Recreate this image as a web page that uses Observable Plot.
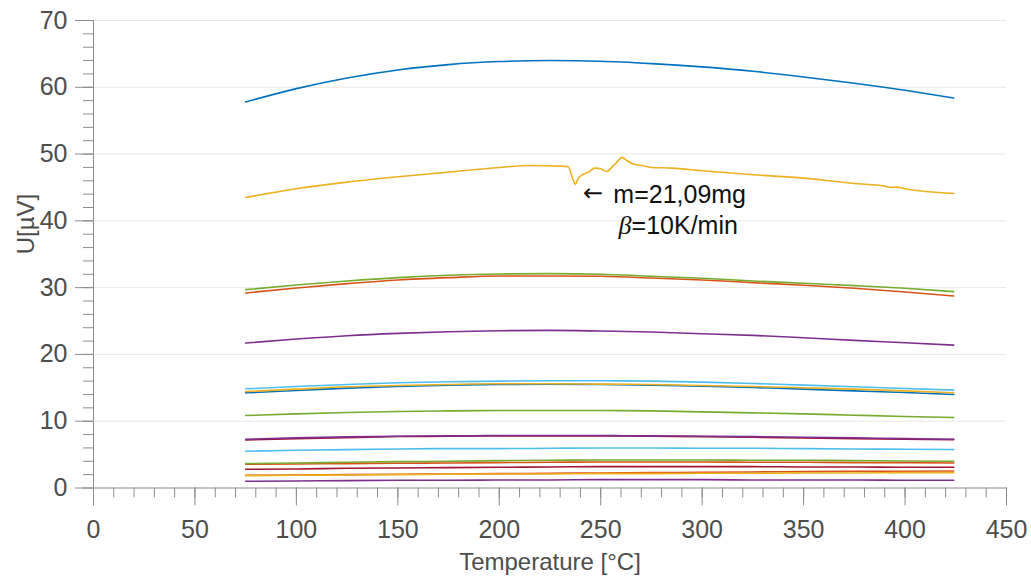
<!DOCTYPE html>
<html>
<head>
<meta charset="utf-8">
<script src="https://cdn.jsdelivr.net/npm/d3@7"></script>
<script src="https://cdn.jsdelivr.net/npm/@observablehq/plot@0.6"></script>
<style>
  body { margin: 0; background: #fff; }
  #chart svg { display: block; }
</style>
</head>
<body>
<div id="chart"></div>
<script>
// Temperature sample points shared by the smooth signal curves (°C)
const temperature = [75, 100, 125, 150, 175, 200, 225, 250, 275, 300, 325, 350, 375, 400, 424];

// Signal U [µV] of each measurement, read at the temperatures above
const blueTop    = [57.8, 59.8, 61.4, 62.6, 63.4, 63.85, 64.0, 63.9, 63.55, 63.05, 62.4, 61.55, 60.6, 59.55, 58.4];
const green30    = [29.7, 30.4, 31.0, 31.5, 31.85, 32.05, 32.1, 32.0, 31.7, 31.4, 31.0, 30.65, 30.3, 29.9, 29.4];
const orange29   = [29.2, 29.95, 30.6, 31.15, 31.5, 31.75, 31.75, 31.7, 31.45, 31.15, 30.75, 30.35, 29.9, 29.35, 28.75];
const purple22   = [21.7, 22.3, 22.8, 23.15, 23.4, 23.55, 23.6, 23.5, 23.35, 23.1, 22.85, 22.5, 22.1, 21.75, 21.4];
const cyan15     = [14.85, 15.2, 15.5, 15.75, 15.9, 16.0, 16.05, 16.05, 16.0, 15.85, 15.65, 15.4, 15.15, 14.9, 14.65];
const yellow15   = [14.45, 14.8, 15.15, 15.35, 15.5, 15.6, 15.6, 15.55, 15.5, 15.35, 15.2, 15.0, 14.8, 14.55, 14.25];
const blue14     = [14.25, 14.6, 14.95, 15.2, 15.4, 15.5, 15.55, 15.5, 15.4, 15.25, 15.05, 14.8, 14.55, 14.3, 14.0];
const green11    = [10.85, 11.1, 11.3, 11.45, 11.55, 11.6, 11.6, 11.6, 11.55, 11.4, 11.25, 11.1, 10.9, 10.7, 10.55];
const darkred7   = [7.2, 7.4, 7.55, 7.7, 7.75, 7.8, 7.8, 7.8, 7.75, 7.7, 7.6, 7.5, 7.4, 7.3, 7.25];
const purple7    = [7.3, 7.5, 7.65, 7.75, 7.8, 7.85, 7.85, 7.85, 7.8, 7.75, 7.7, 7.6, 7.5, 7.4, 7.3];
const cyan6      = [5.5, 5.65, 5.75, 5.85, 5.9, 5.9, 5.95, 6.0, 6.0, 5.95, 5.95, 5.9, 5.85, 5.8, 5.75];
const orange4    = [3.55, 3.6, 3.65, 3.7, 3.75, 3.8, 3.85, 3.9, 3.9, 3.9, 3.85, 3.85, 3.8, 3.8, 3.75];
const green4     = [3.65, 3.75, 3.85, 3.95, 4.0, 4.1, 4.15, 4.2, 4.2, 4.2, 4.15, 4.15, 4.1, 4.05, 4.0];
const darkred3   = [2.8, 2.85, 2.95, 3.0, 3.05, 3.1, 3.15, 3.2, 3.2, 3.2, 3.2, 3.15, 3.15, 3.1, 3.1];
const yellow2    = [1.85, 1.9, 1.95, 2.0, 2.05, 2.1, 2.1, 2.15, 2.15, 2.2, 2.2, 2.25, 2.25, 2.3, 2.3];
const orange2    = [1.9, 1.95, 2.0, 2.05, 2.1, 2.15, 2.2, 2.25, 2.3, 2.35, 2.4, 2.45, 2.5, 2.5, 2.55];
const purple1    = [1.0, 1.05, 1.1, 1.15, 1.15, 1.2, 1.2, 1.25, 1.25, 1.25, 1.2, 1.2, 1.2, 1.15, 1.15];

// The 21,09 mg run has its own, denser sampling around the disturbance near 235–265 °C
const temperatureM21 = [75, 100, 125, 150, 175, 200, 215, 230, 234, 236, 237.5, 239, 241, 244, 247, 250, 253, 256, 258, 260.5, 263, 266, 270, 275, 285, 300, 325, 350, 375, 390, 393, 396, 400, 424];
const signalM21      = [43.5, 44.8, 45.8, 46.6, 47.3, 48.0, 48.3, 48.2, 48.1, 46.5, 45.5, 46.4, 46.9, 47.3, 47.9, 47.8, 47.4, 48.2, 48.8, 49.5, 49.0, 48.5, 48.3, 48.0, 47.9, 47.5, 46.9, 46.4, 45.6, 45.2, 45.0, 45.05, 44.8, 44.1];

// Axis ticks and texts
const yMajorTicks = [0, 10, 20, 30, 40, 50, 60, 70];
const yMinorTicks = d3.range(0, 71, 2);
const xMajorTicks = [0, 50, 100, 150, 200, 250, 300, 350, 400, 450];
const xMinorTicks = d3.range(0, 451, 10);
const xTitle = "Temperature [°C]";
const yTitle = "U[µV]";
const noteArrow = "←";
const noteMass = "m=21,09mg";
const noteRateSymbol = "β";
const noteRate = "=10K/min";

// Line colours (MATLAB default palette)
const C = {
  blue: "#0072BD", orange: "#D95319", yellow: "#EDB120", purple: "#7E2F8E",
  green: "#77AC30", cyan: "#4DBEEE", darkred: "#A2142F"
};

const smoothSeries = [
  ["purple1", purple1, C.purple],
  ["orange2", orange2, C.orange],
  ["yellow2", yellow2, C.yellow],
  ["darkred3", darkred3, C.darkred],
  ["orange4", orange4, C.orange],
  ["green4", green4, C.green],
  ["cyan6", cyan6, C.cyan],
  ["darkred7", darkred7, C.darkred],
  ["purple7", purple7, C.purple],
  ["green11", green11, C.green],
  ["blue14", blue14, C.blue],
  ["yellow15", yellow15, C.yellow],
  ["cyan15", cyan15, C.cyan],
  ["purple22", purple22, C.purple],
  ["orange29", orange29, C.orange],
  ["green30", green30, C.green],
  ["blueTop", blueTop, C.blue]
];

const rows = [];
for (const [name, values, color] of smoothSeries) {
  values.forEach((u, i) => rows.push({series: name, T: temperature[i], U: u, color}));
}
temperatureM21.forEach((t, i) => rows.push({series: "m21", T: t, U: signalM21[i], color: C.yellow}));

const axisGray = "#8c8c8c";
const textGray = "#4d4d4d";
const font = "'Liberation Sans', Arial, sans-serif";

const chart = Plot.plot({
  width: 1031,
  height: 580,
  marginLeft: 93,
  marginRight: 25,
  marginTop: 20,
  marginBottom: 92.5,
  style: {fontFamily: font, background: "#fff"},
  x: {domain: [0, 450]},
  y: {domain: [0, 70]},
  marks: [
    Plot.gridY(yMajorTicks.filter(d => d > 0), {stroke: "#e8e8e8", strokeOpacity: 1}),
    // minor ticks
    Plot.axisY(yMinorTicks, {tickSize: 10, tickFormat: () => "", stroke: axisGray, label: null}),
    Plot.axisX(xMinorTicks, {tickSize: 10, tickFormat: () => "", stroke: axisGray, label: null}),
    // major ticks with labels
    Plot.axisY(yMajorTicks, {tickSize: 18, tickPadding: 8, fontSize: 25, color: textGray, stroke: axisGray, label: null}),
    Plot.axisX(xMajorTicks, {tickSize: 18, tickPadding: 14, fontSize: 25, color: textGray, stroke: axisGray, label: null}),
    // axis lines
    Plot.ruleX([0], {stroke: axisGray}),
    Plot.ruleY([0], {stroke: axisGray}),
    // signals
    Plot.line(rows, {x: "T", y: "U", z: "series", stroke: "color", strokeWidth: 1.6, curve: "monotone-x"}),
    // annotation for the 21,09 mg run
    Plot.text([noteArrow], {x: 241.3, y: 42.9, text: d => d, textAnchor: "start", lineAnchor: "bottom", fontSize: 24, fill: "#111", fontFamily: "'DejaVu Sans', sans-serif"}),
    Plot.text([noteMass], {x: 256.2, y: 42.6, text: d => d, textAnchor: "start", lineAnchor: "bottom", fontSize: 25, fill: "#111"}),
    Plot.text([noteRateSymbol], {x: 265.2, y: 38.05, text: d => d, textAnchor: "end", lineAnchor: "bottom", fontSize: 26, fill: "#111", fontStyle: "italic", fontFamily: "'Liberation Serif', serif"}),
    Plot.text([noteRate], {x: 265.2, y: 38.05, text: d => d, textAnchor: "start", lineAnchor: "bottom", fontSize: 25, fill: "#111"}),
    // axis titles
    Plot.text([xTitle], {frameAnchor: "bottom", text: d => d, lineAnchor: "bottom", dy: 82, fontSize: 24, fill: textGray}),
    Plot.text([yTitle], {frameAnchor: "left", text: d => d, lineAnchor: "bottom", rotate: -90, dx: -60, fontSize: 24, fill: textGray})
  ]
});

document.getElementById("chart").appendChild(chart);
</script>
</body>
</html>
